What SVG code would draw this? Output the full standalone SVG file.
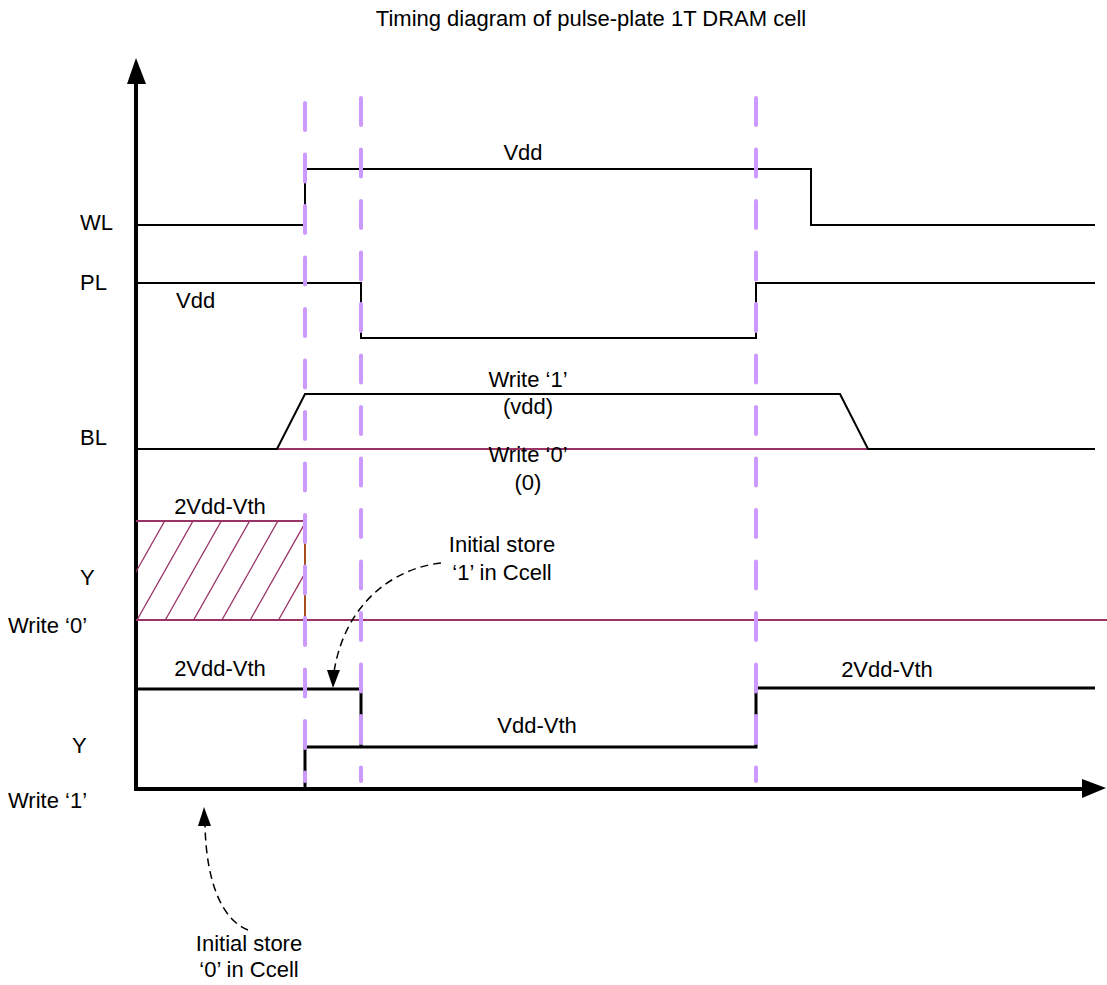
<svg xmlns="http://www.w3.org/2000/svg" width="1107" height="985" viewBox="0 0 1107 985">
<style>
text{font-family:"Liberation Sans",Arial,sans-serif;font-size:22px;fill:#000}
.mid{text-anchor:middle}
.sig{fill:none;stroke:#000;stroke-width:2}
.sigb{fill:none;stroke:#000;stroke-width:3}
.mag{fill:none;stroke:#993366;stroke-width:2}
.hatch{stroke:#993366;stroke-width:1.3}
.axis{fill:none;stroke:#000;stroke-width:4}
.guide{stroke:#cc99ff;stroke-width:4;stroke-linecap:round;stroke-dasharray:27 24.5}
.conn{fill:none;stroke:#000;stroke-width:1.5;stroke-dasharray:8 5}
</style>
<defs>
<clipPath id="hclip"><rect x="136" y="521" width="169" height="99"/></clipPath>
<marker id="ah" viewBox="0 0 17 12" refX="17" refY="6" markerWidth="17" markerHeight="12" markerUnits="userSpaceOnUse" orient="auto"><path d="M0,0 L17,6 L0,12 Z" fill="#000"/></marker>
</defs>
<rect width="1107" height="985" fill="#fff"/>
<text class="mid" x="591" y="26">Timing diagram of pulse-plate 1T DRAM cell</text>

<g id="axes">
<line class="axis" x1="136" y1="791" x2="136" y2="82"/>
<path d="M136,58 L127,84 L146,84 Z" fill="#000"/>
<line class="axis" x1="134" y1="789" x2="1084" y2="789"/>
<path d="M1106,788 L1082,779 L1082,798 Z" fill="#000"/>
</g>

<g id="WL">
<text x="80" y="230">WL</text>
<path class="sig" d="M136,225 H305 V169 H811 V225 H1095"/>
<text class="mid" x="523" y="160">Vdd</text>
</g>

<g id="PL">
<text x="80" y="290">PL</text>
<path class="sig" d="M136,283 H361 V338 H756 V283 H1095"/>
<text x="176" y="308">Vdd</text>
</g>

<g id="BL">
<text x="80" y="445">BL</text>
<line class="mag" x1="277" y1="449" x2="868" y2="449"/>
<path class="sig" d="M136,449 H277 L305,394 H840 L868,449 H1095"/>
<text class="mid" x="528" y="387">Write ‘1’</text>
<text class="mid" x="528" y="414">(vdd)</text>
<text class="mid" x="528" y="462">Write ‘0’</text>
<text class="mid" x="528" y="490">(0)</text>
</g>

<g id="Y-write0">
<text x="80" y="585">Y</text>
<text x="8" y="633">Write ‘0’</text>
<text class="mid" x="220" y="514">2Vdd-Vth</text>
<g clip-path="url(#hclip)">
<line class="hatch" x1="80.4" y1="620" x2="136.4" y2="521"/>
<line class="hatch" x1="108.7" y1="620" x2="164.7" y2="521"/>
<line class="hatch" x1="137" y1="620" x2="193" y2="521"/>
<line class="hatch" x1="165.3" y1="620" x2="221.3" y2="521"/>
<line class="hatch" x1="193.6" y1="620" x2="249.6" y2="521"/>
<line class="hatch" x1="221.9" y1="620" x2="277.9" y2="521"/>
<line class="hatch" x1="250.2" y1="620" x2="306.2" y2="521"/>
<line class="hatch" x1="278.5" y1="620" x2="334.5" y2="521"/>
</g>
<line class="mag" x1="136" y1="521" x2="305" y2="521"/>
<line class="mag" x1="136" y1="620" x2="1107" y2="620"/>
<line x1="305" y1="521" x2="305" y2="620" stroke="#a84e1e" stroke-width="2"/>
</g>

<g id="Y-write1">
<text x="72" y="753">Y</text>
<text x="8" y="808">Write ‘1’</text>
<path class="sigb" d="M136,689 H361 V747"/>
<path class="sigb" d="M305,789 V747 H756 V688 H1095"/>
<text class="mid" x="220" y="676">2Vdd-Vth</text>
<text class="mid" x="537" y="733">Vdd-Vth</text>
<text class="mid" x="887" y="677">2Vdd-Vth</text>
</g>

<g id="guides">
<line class="guide" x1="305" y1="103" x2="305" y2="781"/>
<line class="guide" x1="361" y1="98" x2="361" y2="781"/>
<line class="guide" x1="756" y1="98" x2="756" y2="781"/>
</g>

<g id="note-store1">
<text class="mid" x="502" y="552">Initial store</text>
<text class="mid" x="502" y="580">‘1’ in Ccell</text>
</g>

<g id="note-store0">
<text class="mid" x="249" y="951">Initial store</text>
<text class="mid" x="249" y="977">‘0’ in Ccell</text>
</g>

<g id="connectors">
<path class="conn" d="M441,563 C395,568 345,602 334,672"/>
<path d="M333,688 L327,670 L340,670 Z" fill="#000"/>
<path class="conn" d="M248,930 C222,920 206,882 205,824"/>
<path d="M204,807 L198,826 L211,826 Z" fill="#000"/>
</g>
</svg>
